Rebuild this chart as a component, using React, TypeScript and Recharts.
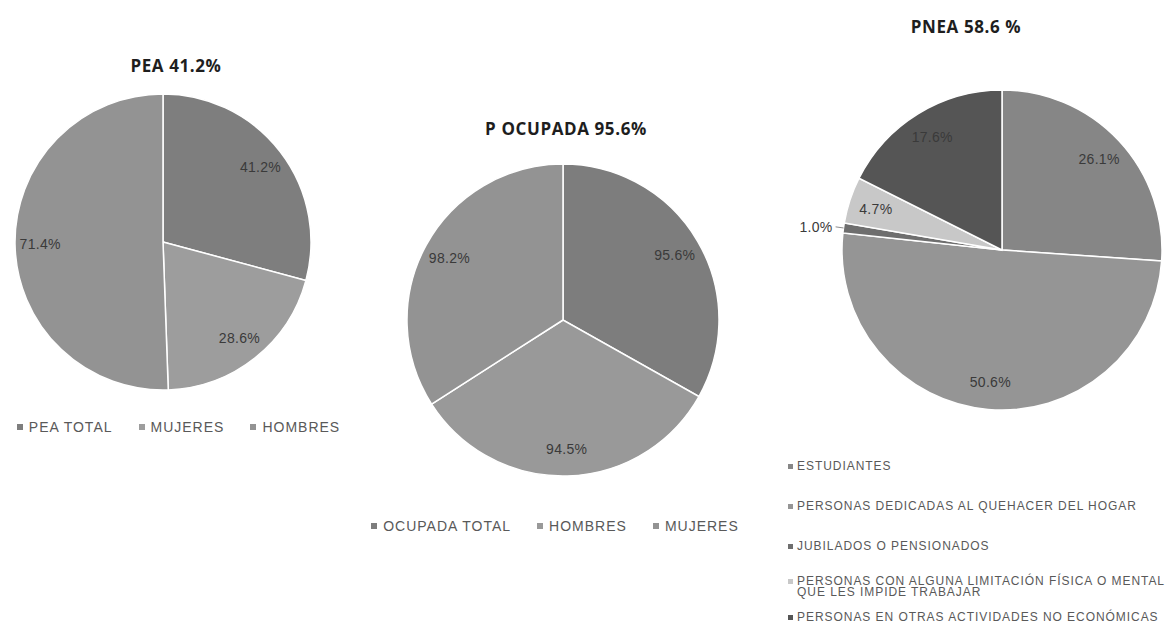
import React from 'react';
import { PieChart, Pie, Cell, Legend } from 'recharts';

const PEA_TITLE = 'PEA 41.2%';
const PEA_CATEGORIES = ['PEA TOTAL', 'MUJERES', 'HOMBRES'];
const PEA_VALUES = [41.2, 28.6, 71.4];

const OCU_TITLE = 'P OCUPADA 95.6%';
const OCU_CATEGORIES = ['OCUPADA TOTAL', 'HOMBRES', 'MUJERES'];
const OCU_VALUES = [95.6, 94.5, 98.2];

const PNEA_TITLE = 'PNEA 58.6 %';
const PNEA_CATEGORIES = [
  'ESTUDIANTES',
  'PERSONAS DEDICADAS AL QUEHACER DEL HOGAR',
  'JUBILADOS O PENSIONADOS',
  'PERSONAS CON ALGUNA LIMITACIÓN FÍSICA O MENTAL QUE LES IMPIDE TRABAJAR',
  'PERSONAS EN OTRAS ACTIVIDADES NO ECONÓMICAS',
];
const PNEA_VALUES = [26.1, 50.6, 1.0, 4.7, 17.6];

const PEA_COLORS = ['#7e7e7e', '#9d9d9d', '#939393'];
const OCU_COLORS = ['#7d7d7d', '#999999', '#939393'];
const PNEA_COLORS = ['#868686', '#959595', '#6e6e6e', '#c8c8c8', '#555555'];

const RAD = Math.PI / 180;
const TEXT_FONT = '"Liberation Sans", Arial, sans-serif';

const build = (cats: string[], vals: number[]) => cats.map((name, i) => ({ name, value: vals[i] }));

const ordered = (payload: any[], cats: string[]) =>
  [...(payload || [])].sort((a, b) => cats.indexOf(a.value) - cats.indexOf(b.value));

const renderLabel = (props: any) => {
  const { cx, cy, midAngle, outerRadius, value, percent } = props;
  const cos = Math.cos(-midAngle * RAD);
  const sin = Math.sin(-midAngle * RAD);
  const text = `${Number(value).toFixed(1)}%`;
  const style = { fontFamily: TEXT_FONT, fontSize: 14, fill: '#3a3a3a', letterSpacing: 0.3 } as any;
  if (percent < 0.02) {
    const x1 = cx + outerRadius * cos;
    const y1 = cy + outerRadius * sin;
    const x2 = cx + outerRadius * 1.05 * cos;
    const y2 = cy + outerRadius * 1.05 * sin;
    return (
      <g>
        <line x1={x1} y1={y1} x2={x2} y2={y2} stroke="#8c8c8c" strokeWidth={1} />
        <text x={x2 + (cos < 0 ? -3 : 3)} y={y2} textAnchor={cos < 0 ? 'end' : 'start'} dominantBaseline="central" style={style}>
          {text}
        </text>
      </g>
    );
  }
  const r = outerRadius * 0.83;
  return (
    <text x={cx + r * cos} y={cy + r * sin} textAnchor="middle" dominantBaseline="central" style={style}>
      {text}
    </text>
  );
};

const makeHLegend = (cats: string[]) => (props: any) => {
  const items = ordered(props.payload, cats);
  return (
    <div style={{ display: 'flex', justifyContent: 'center', gap: 26, fontFamily: TEXT_FONT, fontSize: 14, color: '#595959', letterSpacing: 1 }}>
      {items.map((e: any, i: number) => (
        <span key={i} style={{ display: 'flex', alignItems: 'center', whiteSpace: 'nowrap' }}>
          <span style={{ display: 'inline-block', width: 6, height: 6, background: e.color, marginRight: 6 }} />
          {e.value}
        </span>
      ))}
    </div>
  );
};

const makeVLegend = (cats: string[]) => (props: any) => {
  const items = ordered(props.payload, cats);
  const gaps = [0, 29, 29, 24, 14];
  return (
    <div style={{ display: 'flex', flexDirection: 'column', fontFamily: TEXT_FONT, fontSize: 12, lineHeight: '11px', color: '#595959', letterSpacing: 0.95 }}>
      {items.map((e: any, i: number) => (
        <div key={i} style={{ display: 'flex', alignItems: 'flex-start', marginTop: gaps[i] ?? 20 }}>
          <span style={{ display: 'inline-block', flex: '0 0 5px', width: 5, height: 5, background: e.color, marginRight: 4, marginTop: 3 }} />
          <span>{e.value}</span>
        </div>
      ))}
    </div>
  );
};

const PeaLegend = makeHLegend(PEA_CATEGORIES);
const OcuLegend = makeHLegend(OCU_CATEGORIES);
const PneaLegend = makeVLegend(PNEA_CATEGORIES);

const titleStyle = (cx: number, top: number): React.CSSProperties => ({
  position: 'absolute',
  left: cx - 150,
  width: 300,
  top,
  textAlign: 'center',
  fontFamily: '"Open Sans", sans-serif',
  fontWeight: 700,
  fontSize: 17,
  lineHeight: '20px',
  letterSpacing: 0.6,
  color: '#1e1e1e',
});

export default function App() {
  const pea = build(PEA_CATEGORIES, PEA_VALUES);
  const ocu = build(OCU_CATEGORIES, OCU_VALUES);
  const pnea = build(PNEA_CATEGORIES, PNEA_VALUES);
  const margin = { top: 0, right: 0, bottom: 0, left: 0 };

  return (
    <div style={{ position: 'absolute', left: 0, top: 0, width: 1167, height: 625, background: '#ffffff', overflow: 'hidden' }}>
      <div style={titleStyle(176, 56)}>{PEA_TITLE}</div>
      <div style={titleStyle(566, 119)}>{OCU_TITLE}</div>
      <div style={titleStyle(966, 17)}>{PNEA_TITLE}</div>

      <div style={{ position: 'absolute', left: 0, top: 0 }}>
        <PieChart width={357} height={460} margin={margin}>
          <Pie
            data={pea}
            dataKey="value"
            nameKey="name"
            cx={163}
            cy={242}
            outerRadius={148}
            startAngle={90}
            endAngle={-270}
            stroke="#ffffff"
            strokeWidth={1.5}
            label={renderLabel}
            labelLine={false}
            isAnimationActive={false}
          >
            {pea.map((_, i) => (
              <Cell key={i} fill={PEA_COLORS[i]} />
            ))}
          </Pie>
          <Legend verticalAlign="bottom" content={PeaLegend} wrapperStyle={{ position: 'absolute', left: 0, top: 419, width: 357, bottom: 'auto' }} />
        </PieChart>
      </div>

      <div style={{ position: 'absolute', left: 360, top: 0 }}>
        <PieChart width={390} height={560} margin={margin}>
          <Pie
            data={ocu}
            dataKey="value"
            nameKey="name"
            cx={203}
            cy={320}
            outerRadius={156}
            startAngle={90}
            endAngle={-270}
            stroke="#ffffff"
            strokeWidth={1.5}
            label={renderLabel}
            labelLine={false}
            isAnimationActive={false}
          >
            {ocu.map((_, i) => (
              <Cell key={i} fill={OCU_COLORS[i]} />
            ))}
          </Pie>
          <Legend verticalAlign="bottom" content={OcuLegend} wrapperStyle={{ position: 'absolute', left: 0, top: 518, width: 390, bottom: 'auto' }} />
        </PieChart>
      </div>

      <div style={{ position: 'absolute', left: 780, top: 0 }}>
        <PieChart width={387} height={625} margin={margin}>
          <Pie
            data={pnea}
            dataKey="value"
            nameKey="name"
            cx={222}
            cy={250}
            outerRadius={160}
            startAngle={90}
            endAngle={-270}
            stroke="#ffffff"
            strokeWidth={1.5}
            label={renderLabel}
            labelLine={false}
            isAnimationActive={false}
          >
            {pnea.map((_, i) => (
              <Cell key={i} fill={PNEA_COLORS[i]} />
            ))}
          </Pie>
          <Legend verticalAlign="bottom" content={PneaLegend} wrapperStyle={{ position: 'absolute', left: 8, top: 461, width: 379, bottom: 'auto' }} />
        </PieChart>
      </div>
    </div>
  );
}
